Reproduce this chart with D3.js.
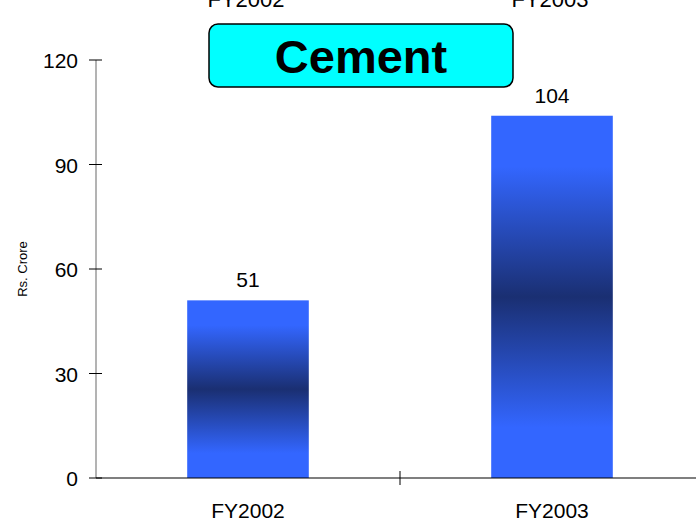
<!DOCTYPE html>
<html><head><meta charset="utf-8">
<script src="https://cdn.jsdelivr.net/npm/d3@7"></script>
<style>body{margin:0;background:#fff;overflow:hidden}svg{display:block;font-family:"Liberation Sans",Arial,sans-serif}</style>
</head><body>
<svg id="c" width="696" height="523"></svg>
<script>
const categories = ["FY2002", "FY2003"];
const values = [51, 104];
const yTicks = [0, 30, 60, 90, 120];
const title = "Cement";
const yLabel = "Rs. Crore";

const svg = d3.select("#c");
const x0 = 96, x1 = 704, yTop = 60, yBot = 478;
const x = d3.scaleBand().domain(categories).range([x0, x1]).paddingInner(0.6).paddingOuter(0.3);
const xb = d3.scaleBand().domain(categories).range([x0, x1]);
const y = d3.scaleLinear().domain([0, 120]).range([yBot, yTop]);

const defs = svg.append("defs");
const g = defs.append("linearGradient").attr("id", "bg").attr("x1", 0).attr("x2", 0).attr("y1", 0).attr("y2", 1);
[[0, "#3366FF"], [0.14, "#3366FF"], [0.5, "#1A2F72"], [0.86, "#3366FF"], [1, "#3366FF"]]
  .forEach(([o, c]) => g.append("stop").attr("offset", o).attr("stop-color", c));

// bars
svg.selectAll("rect.bar").data(values).enter().append("rect")
  .attr("class", "bar")
  .attr("x", (d, i) => x(categories[i]))
  .attr("width", x.bandwidth())
  .attr("y", d => y(d))
  .attr("height", d => y(0) - y(d))
  .attr("fill", "url(#bg)");

// value labels
svg.selectAll("text.val").data(values).enter().append("text")
  .attr("x", (d, i) => x(categories[i]) + x.bandwidth() / 2)
  .attr("y", d => y(d) - 13)
  .attr("text-anchor", "middle").attr("font-size", 21).attr("fill", "#000")
  .text(d => d);

// y axis
svg.append("line").attr("x1", x0).attr("x2", x0).attr("y1", y(120)).attr("y2", y(0))
  .attr("stroke", "#808080").attr("stroke-width", 1.2);
svg.selectAll("line.yt").data(yTicks).enter().append("line")
  .attr("x1", x0 - 7).attr("x2", x0 + 6).attr("y1", d => y(d)).attr("y2", d => y(d))
  .attr("stroke", "#000").attr("stroke-width", 1);
svg.selectAll("text.yl").data(yTicks).enter().append("text")
  .attr("x", 78).attr("y", d => y(d) + 8)
  .attr("text-anchor", "end").attr("font-size", 21).text(d => d);

// x axis
svg.append("line").attr("x1", x0).attr("x2", x1).attr("y1", yBot).attr("y2", yBot)
  .attr("stroke", "#000").attr("stroke-width", 1.2);
svg.selectAll("line.xt").data(categories.slice(1)).enter().append("line")
  .attr("x1", d => xb(d)).attr("x2", d => xb(d)).attr("y1", yBot - 7).attr("y2", yBot + 7)
  .attr("stroke", "#000").attr("stroke-width", 1);
svg.selectAll("text.xl").data(categories).enter().append("text")
  .attr("x", d => x(d) + x.bandwidth() / 2).attr("y", 518)
  .attr("text-anchor", "middle").attr("font-size", 21).text(d => d);
// cut-off labels at top (as in the reference)
svg.selectAll("text.xtop").data(categories).enter().append("text")
  .attr("x", d => x(d) + x.bandwidth() / 2 - 2).attr("y", 7)
  .attr("text-anchor", "middle").attr("font-size", 22).text(d => d);

// y label
svg.append("text").attr("transform", "translate(27,269) rotate(-90)")
  .attr("text-anchor", "middle").attr("font-size", 13).text(yLabel);

// title box
svg.append("rect").attr("x", 209).attr("y", 24).attr("width", 304).attr("height", 63)
  .attr("rx", 9).attr("fill", "#00FFFF").attr("stroke", "#000").attr("stroke-width", 1.5);
svg.append("text").attr("x", 361).attr("y", 73).attr("text-anchor", "middle")
  .attr("font-size", 47).attr("font-weight", "bold").text(title);
</script>
</body></html>
